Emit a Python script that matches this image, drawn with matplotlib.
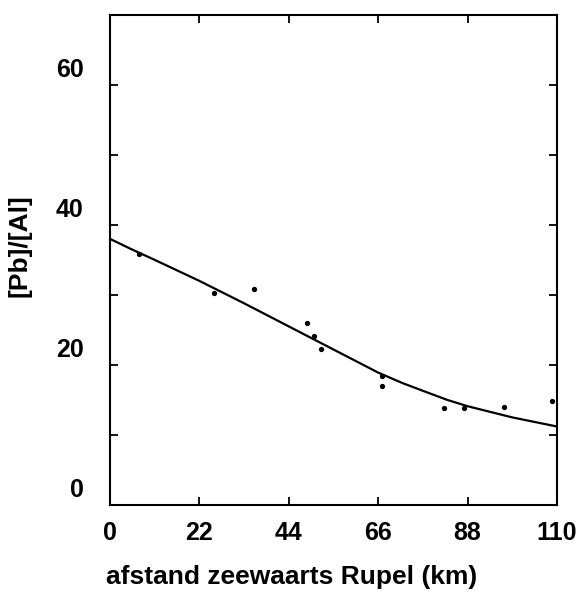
import matplotlib
matplotlib.use("Agg")
import matplotlib.pyplot as plt
import matplotlib.transforms as mtransforms

# measured points
dist_km = [7.1, 25.7, 35.4, 48.6, 50.2, 51.9, 66.9, 66.9, 82.1, 87.1, 97.0, 108.8]
pb_al = [35.9, 30.2, 30.9, 26.0, 24.1, 22.3, 18.4, 17.0, 13.9, 13.9, 14.0, 14.8]

# fitted curve
fit_x = [0, 5, 11, 22, 33, 44, 55, 66, 72, 77, 83, 88, 99, 110]
fit_y = [38.0, 36.6, 35.0, 32.0, 28.8, 25.5, 22.2, 18.9, 17.4, 16.3, 15.0, 14.1, 12.5, 11.2]

x_ticks = [0, 22, 44, 66, 88, 110]
y_ticks = [0, 10, 20, 30, 40, 50, 60]
y_labels = ["0", "", "20", "", "40", "", "60"]

plt.rcParams['font.family'] = ['Liberation Sans', 'DejaVu Sans']

fig = plt.figure(figsize=(5.85, 5.94), dpi=100)
ax = fig.add_axes([0.188, 0.150, 0.764, 0.825])

ax.plot(fit_x, fit_y, color="black", lw=1.6)
ax.plot(dist_km, pb_al, "o", color="black", ms=2.8)

ax.set_xlim(0, 110)
ax.set_ylim(0, 70)
ax.set_xticks(x_ticks)
ax.set_yticks(y_ticks)
ax.set_yticklabels(y_labels)

for s in ax.spines.values():
    s.set_linewidth(1.5)

ax.tick_params(axis="both", direction="in", length=6, width=1.3,
               top=True, right=True, labelsize=18)
ax.tick_params(axis="x", pad=11.5)
ax.tick_params(axis="y", pad=19)
for lab in ax.get_xticklabels() + ax.get_yticklabels():
    lab.set_fontweight("bold")

# y labels sit a bit above their ticks in the original
shift = mtransforms.ScaledTranslation(0, 17 / 100, fig.dpi_scale_trans)
for lab in ax.get_yticklabels():
    lab.set_transform(lab.get_transform() + shift)

ax.set_xlabel("afstand zeewaarts Rupel (km)", fontsize=19, fontweight="bold")
ax.xaxis.set_label_coords(0.407, -0.123)
ax.set_ylabel("[Pb]/[Al]", fontsize=19, fontweight="bold")
ax.yaxis.set_label_coords(-0.175, 0.529)

fig.savefig("out.png", dpi=100)
